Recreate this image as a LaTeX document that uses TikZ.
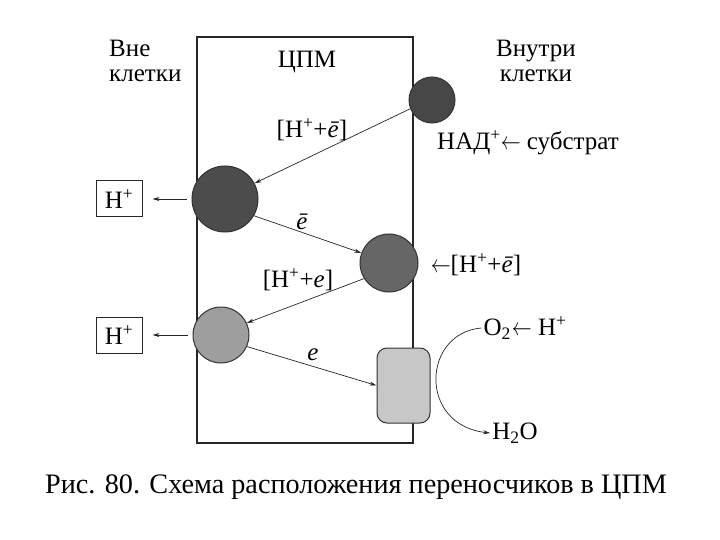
\documentclass[tikz,border=0pt]{standalone}
\usepackage{graphicx}
\usepackage{fontspec}
\setmainfont{LiberationSerif}[Extension=.ttf, UprightFont=*-Regular, ItalicFont=*-Italic, BoldFont=*-Bold, BoldItalicFont=*-BoldItalic]
\usetikzlibrary{arrows.meta}
\newcommand\myarr{\scalebox{0.8}[1]{$\leftarrow$}}
\begin{document}
\begin{tikzpicture}[x=1pt,y=-1pt,
  lbl/.style={font=\fontsize{25}{25}\selectfont, inner sep=0pt},
  carrier/.style={circle, draw=black!80, line width=1pt, inner sep=0pt},
  hbox/.style={draw=black!85, line width=1pt, minimum width=46pt, minimum height=36pt, inner sep=0pt, font=\fontsize{25}{25}\selectfont},
  arr/.style={-{Stealth[length=7pt,width=4pt]}, line width=0.7pt, black!85}]
\useasboundingbox (0,0) rectangle (720,540);
\fill[white] (0,0) rectangle (720,540);
% membrane
\draw[line width=1.3pt, black!85] (197,37) rectangle (413,443);
% carriers
\node[carrier, fill=black!72, minimum size=46pt] (c1) at (432,100) {};
\node[carrier, fill=black!70, minimum size=66pt] (c2) at (225,199) {};
\node[carrier, fill=black!60, minimum size=58pt] (c3) at (389,263) {};
\node[carrier, fill=black!38, minimum size=56pt] (c4) at (221,335) {};
\node[draw=black!80, line width=1pt, fill=black!22, rounded corners=10pt, minimum width=53pt, minimum height=75pt, inner sep=0pt] (rr) at (403.5,385.5) {};
% H+ boxes
\node[hbox] (h1) at (119,199) {H\textsuperscript{+}};
\node[hbox] (h2) at (119,335) {H\textsuperscript{+}};
% labels
\node[lbl, anchor=west, align=left] (out) at (109,61) {Вне\\клетки};
\node[lbl] (cpm) at (307,62) {ЦПМ};
\node[lbl, align=center] (in) at (536,61) {Внутри\\клетки};
\node[lbl] (nad) at (528,143) {НАД\textsuperscript{+}\myarr\ субстрат};
\node[lbl] (l1) at (312,130) {[H\textsuperscript{+}+\textit{ē}]};
\node[lbl] (l2) at (302,222) {\textit{ē}};
\node[lbl] (l3) at (298,280) {[H\textsuperscript{+}+\textit{e}]};
\node[lbl] (l4) at (313,355) {\textit{e}};
\node[lbl] (in3) at (476,265) {\myarr[H\textsuperscript{+}+\textit{ē}]};
\node[lbl] (o2) at (525,328) {O\textsubscript{2}\kern1pt\myarr\ H\textsuperscript{+}};
\node[lbl] (h2o) at (515,433) {H\textsubscript{2}O};
\node[font=\fontsize{28.2}{28.2}\selectfont, inner sep=0pt] (cap) at (356,487) {Рис. 80. Схема расположения переносчиков в ЦПМ};
% connectors
\draw[arr] (c1.202) -- (c2.28);
\draw[arr] (c2.-30) -- (c3.160);
\draw[arr] (c3.212) -- (c4.25);
\draw[arr] (c4.-24) -- (rr.west);
\draw[arr, shorten <=5pt, shorten >=10pt] (c2.west) -- (h1.east);
\draw[arr, shorten <=5pt, shorten >=10pt] (c4.west) -- (h2.east);
\draw[arr] ([xshift=-2pt]o2.west) .. controls (422,333) and (418,425) .. ([xshift=-2pt]h2o.west);
\end{tikzpicture}
\end{document}
